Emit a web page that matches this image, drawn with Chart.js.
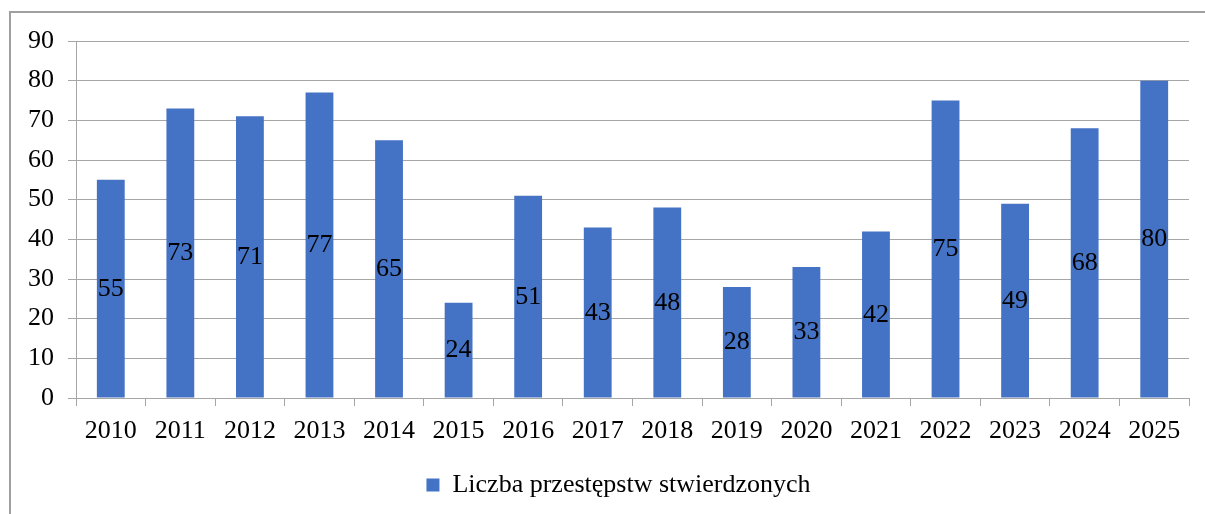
<!DOCTYPE html>
<html>
<head>
<meta charset="utf-8">
<script src="https://cdn.jsdelivr.net/npm/chart.js@4.4.1/dist/chart.umd.min.js"></script>
<style>
  html, body { margin: 0; padding: 0; background: #fff; }
  #wrap { width: 1205px; height: 514px; position: relative; }
</style>
</head>
<body>
<div id="wrap"><canvas id="chart" width="1205" height="514"></canvas></div>
<script>
const years = ["2010", "2011", "2012", "2013", "2014", "2015", "2016", "2017",
  "2018", "2019", "2020", "2021", "2022", "2023", "2024", "2025"];
const crimes = [55, 73, 71, 77, 65, 24, 51, 43, 48, 28, 33, 42, 75, 49, 68, 80];
const seriesName = "Liczba przestępstw stwierdzonych";

const FONT = "'Liberation Serif', 'Times New Roman', serif";
const FSIZE = 26;
const GRID = "#a6a6a6";

// outer frame of the chart object
const framePlugin = {
  id: "frame",
  beforeDraw(chart) {
    const ctx = chart.ctx;
    ctx.save();
    ctx.fillStyle = "#fff";
    ctx.fillRect(0, 0, chart.width, chart.height);
    ctx.strokeStyle = "#a0a0a0";
    ctx.lineWidth = 2;
    ctx.strokeRect(10, 12, 1400, 700);
    ctx.restore();
  }
};

// value labels in the middle of each bar
const centerLabels = {
  id: "centerLabels",
  afterDatasetsDraw(chart) {
    const ctx = chart.ctx;
    const meta = chart.getDatasetMeta(0);
    const y = chart.scales.y;
    ctx.save();
    ctx.font = FSIZE + "px " + FONT;
    ctx.fillStyle = "#000";
    ctx.textAlign = "center";
    ctx.textBaseline = "middle";
    meta.data.forEach((bar, i) => {
      const v = crimes[i];
      ctx.fillText(String(v), bar.x, y.getPixelForValue(v / 2));
    });
    ctx.restore();
  }
};

const chart = new Chart(document.getElementById("chart"), {
  type: "bar",
  data: {
    labels: years,
    datasets: [{
      label: seriesName,
      data: crimes,
      backgroundColor: "#4472c4",
      borderWidth: 0,
      categoryPercentage: 1,
      barPercentage: 0.4
    }]
  },
  options: {
    responsive: false,
    animation: false,
    layout: { padding: { top: 41, right: 16, left: 0, bottom: 6 } },
    scales: {
      x: {
        grid: { drawOnChartArea: false, drawTicks: true, tickLength: 8, color: GRID, offset: true },
        border: { color: GRID, width: 1 },
        ticks: { color: "#000", font: { family: FONT, size: FSIZE }, padding: 10, maxRotation: 0, autoSkip: false },
        afterFit(scale) { scale.height = 64; }
      },
      y: {
        min: 0,
        max: 90,
        ticks: { stepSize: 10, color: "#000", font: { family: FONT, size: FSIZE }, padding: 14 },
        grid: { color: GRID, tickLength: 8 },
        border: { color: GRID, width: 1 },
        afterFit(scale) { scale.width = 76; }
      }
    },
    plugins: {
      legend: {
        position: "bottom",
        labels: {
          color: "#000",
          font: { family: FONT, size: FSIZE },
          boxWidth: 13,
          boxHeight: 13,
          padding: 10
        }
      },
      tooltip: { enabled: false }
    }
  },
  plugins: [framePlugin, centerLabels]
});

// the original legend sits a bit right of the canvas centre
const legendDraw = chart.legend.draw;
chart.legend.draw = function () {
  const ctx = this.ctx;
  ctx.save();
  ctx.translate(24, 0);
  legendDraw.apply(this, arguments);
  ctx.restore();
};
chart.draw();
</script>
</body>
</html>
